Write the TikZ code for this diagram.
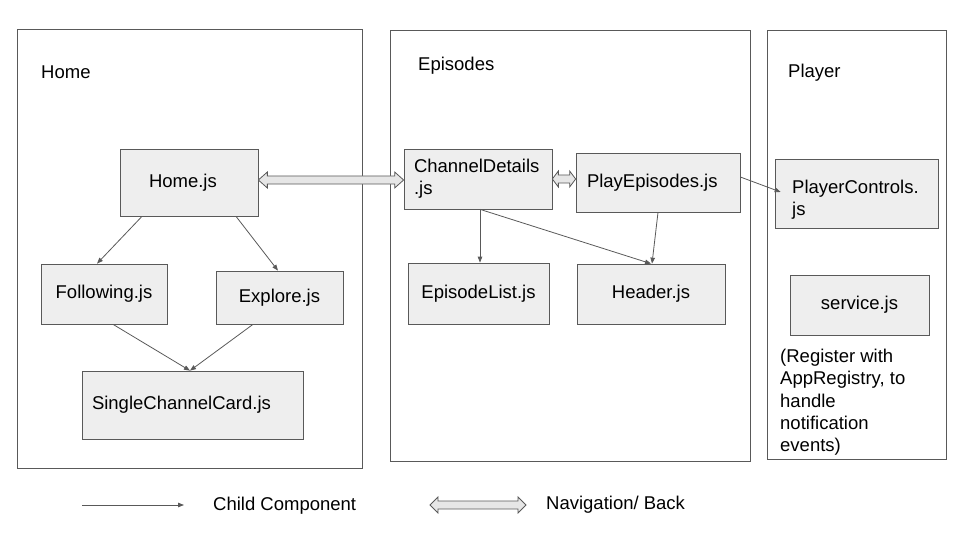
\documentclass[tikz,border=0pt]{standalone}
\usepackage{fontspec}
\setmainfont{Liberation Sans}
\usetikzlibrary{arrows.meta,calc}
\definecolor{boxfill}{HTML}{EEEEEE}
\definecolor{boxline}{HTML}{595959}
\definecolor{navfill}{HTML}{E6E6E6}
\newcommand\navarrow[3]{%
  \draw[nav] let \p1=(#1), \p2=(#2) in
    (\x1,\y1) -- (\x1+#3,\y1+8pt) -- (\x1+#3,\y1+4pt) -- (\x2-#3,\y1+4pt) -- (\x2-#3,\y1+8pt)
    -- (\x2,\y1) -- (\x2-#3,\y1-8pt) -- (\x2-#3,\y1-4pt) -- (\x1+#3,\y1-4pt) -- (\x1+#3,\y1-8pt) -- cycle;}
\begin{document}
\begin{tikzpicture}[x=1pt,y=-1pt,
  txt/.style={font=\fontsize{18.5}{22.3}\selectfont, text=black},
  panel/.style={draw=boxline, line width=0.9pt, inner sep=0pt},
  comp/.style={txt, draw=boxline, fill=boxfill, line width=0.7pt, inner sep=0pt},
  lcomp/.style={comp, align=left, inner xsep=10pt},
  child/.style={draw=boxline, line width=0.8pt, -{Triangle[length=6pt,width=4.5pt]}},
  nav/.style={draw=boxline, fill=navfill, line width=0.8pt, line join=miter}]
\useasboundingbox (0,0) rectangle (960,540);
% panels
\node[panel, minimum width=345pt, minimum height=439pt] (homepanel) at (189.5,248.5) {};
\node[panel, minimum width=360pt, minimum height=431pt] (eppanel) at (570,245.5) {};
\node[panel, minimum width=179pt, minimum height=429pt] (plpanel) at (856.5,244.5) {};
\node[txt, anchor=west, inner sep=0pt] (homelbl) at (41,72) {Home};
\node[txt, anchor=west, inner sep=0pt] (eplbl) at (418,66) {Episodes};
\node[txt, anchor=west, inner sep=0pt] (pllbl) at (788,73) {Player};
% components
\node[lcomp, inner xsep=29pt, text width=80pt, minimum height=67pt] (home) at (189,182.5) {Home.js};
\node[comp, minimum width=126pt, minimum height=60pt] (following) at (104,294) {Following.js};
\node[comp, minimum width=127pt, minimum height=53pt] (explore) at (279.5,297.5) {Explore.js};
\node[lcomp, text width=201pt, minimum height=68pt] (scc) at (192.5,405) {SingleChannelCard.js};
\node[lcomp, text width=128pt, minimum height=60pt] (cd) at (478,179) {ChannelDetails\\.js};
\node[lcomp, inner xsep=11pt, text width=142pt, minimum height=59pt] (play) at (658,182.5) {\raisebox{2pt}{PlayEpisodes.js}};
\node[comp, minimum width=163pt, minimum height=69pt] (pc) at (856.5,193.5) {};
\node[txt, anchor=north west, align=left, inner sep=0pt] (pctext) at (792,179.5) {PlayerControls.\\js};
\node[comp, minimum width=141pt, minimum height=61pt] (epl) at (478.5,293.5) {EpisodeList.js};
\node[comp, minimum width=148pt, minimum height=60pt] (header) at (651,294) {Header.js};
\node[comp, minimum width=139pt, minimum height=60pt] (service) at (859.5,305) {service.js};
\node[txt, anchor=north west, align=left, inner sep=0pt] (note) at (780,349) {(Register with\\AppRegistry, to\\handle\\notification\\events)};
% child arrows
\draw[child] ([xshift=-47pt]home.south) -- ([xshift=-7pt]following.north);
\draw[child] ([xshift=47pt]home.south) -- ([xshift=-1.5pt]explore.north);
\draw[child] ([xshift=9pt]following.south) -- ([xshift=-2.5pt]scc.north);
\draw[child] ([xshift=-26.5pt]explore.south) -- ([xshift=-2.5pt]scc.north);
\draw[child] ([xshift=2pt]cd.south) -- ([xshift=1.5pt]epl.north);
\draw[child] ([xshift=2pt]cd.south) -- (header.north);
\draw[child] (play.south) -- ([xshift=1pt]header.north);
\draw[child] ([yshift=5.5pt]play.east) -- ([yshift=1.5pt,xshift=6pt]pc.west);
% navigation arrows
\navarrow{[yshift=2.5pt]home.east}{cd.west}{9pt}
\navarrow{cd.east}{play.west}{6pt}
% legend
\coordinate (l1a) at (82,505);
\coordinate (l1b) at (184,505);
\draw[child] (l1a) -- (l1b);
\node[txt, anchor=west, inner sep=0pt] (l1t) at (213,505.5) {Child Component};
\coordinate (l2a) at (430,505);
\coordinate (l2b) at (526,505);
\navarrow{l2a}{l2b}{8pt}
\node[txt, anchor=west, inner sep=0pt] (l2t) at (546,504.5) {Navigation/ Back};
\end{tikzpicture}
\end{document}
